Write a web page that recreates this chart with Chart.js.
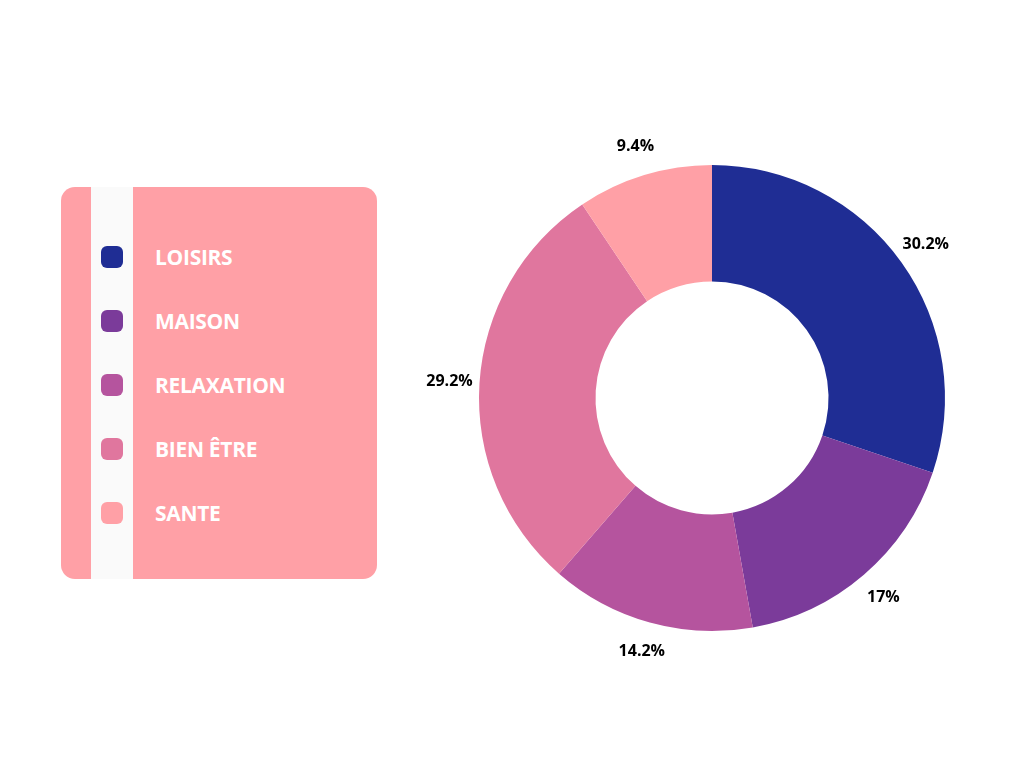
<!DOCTYPE html>
<html><head><meta charset="utf-8">
<script src="https://cdn.jsdelivr.net/npm/chart.js@4"></script>
<style>
body{margin:0;width:1024px;height:768px;background:#fff;position:relative;overflow:hidden;font-family:"Open Sans",sans-serif}
#panel{position:absolute;left:61px;top:187px;width:316px;height:392px;background:#ffa0a6;border-radius:14px}
#stripe{position:absolute;left:30px;top:0;width:42px;height:392px;background:#fafafa}
.item{position:absolute;left:40px;height:22px}
.sw{position:absolute;left:0;top:0;width:22px;height:22px;border-radius:6px}
.lbl{position:absolute;left:54px;top:-3px;color:#fff;font-weight:700;font-size:21px;white-space:nowrap;letter-spacing:-0.3px}
#wrap{position:absolute;left:412px;top:98px;width:600px;height:600px}
</style></head><body>
<div id="panel"><div id="stripe"></div><div id="legend"></div></div>
<div id="wrap"><canvas id="c"></canvas></div>
<script>
const categories=["LOISIRS","MAISON","RELAXATION","BIEN ÊTRE","SANTE"];
const values=[30.2,17,14.2,29.2,9.4];
const valueLabels=["30.2%","17%","14.2%","29.2%","9.4%"];
const colors=["#1f2d94","#7b3b9a","#b5549e","#e0769e","#ffa0a6"];
const legend=document.getElementById('legend');
categories.forEach((c,i)=>{
  const d=document.createElement('div');d.className='item';d.style.top=(59+i*64)+'px';
  d.innerHTML='<div class="sw" style="background:'+colors[i]+'"></div><div class="lbl">'+c+'</div>';
  legend.appendChild(d);
});
const outLabels={id:'outLabels',afterDatasetsDraw(chart){
  const ctx=chart.ctx;const meta=chart.getDatasetMeta(0);
  ctx.save();ctx.font='bold 16px "Open Sans", sans-serif';ctx.fillStyle='#000';ctx.textAlign='center';ctx.textBaseline='middle';
  meta.data.forEach((arc,i)=>{
    const a=(arc.startAngle+arc.endAngle)/2;const r=arc.outerRadius+30;
    ctx.fillText(valueLabels[i],arc.x+Math.cos(a)*r,arc.y+Math.sin(a)*r);
  });ctx.restore();}};
new Chart(document.getElementById('c'),{type:'doughnut',
 data:{labels:categories,datasets:[{data:values,backgroundColor:colors,borderWidth:0}]},
 options:{responsive:true,maintainAspectRatio:false,animation:false,cutout:'50%',
  layout:{padding:67},plugins:{legend:{display:false},tooltip:{enabled:false}}},
 plugins:[outLabels]});
</script></body></html>
